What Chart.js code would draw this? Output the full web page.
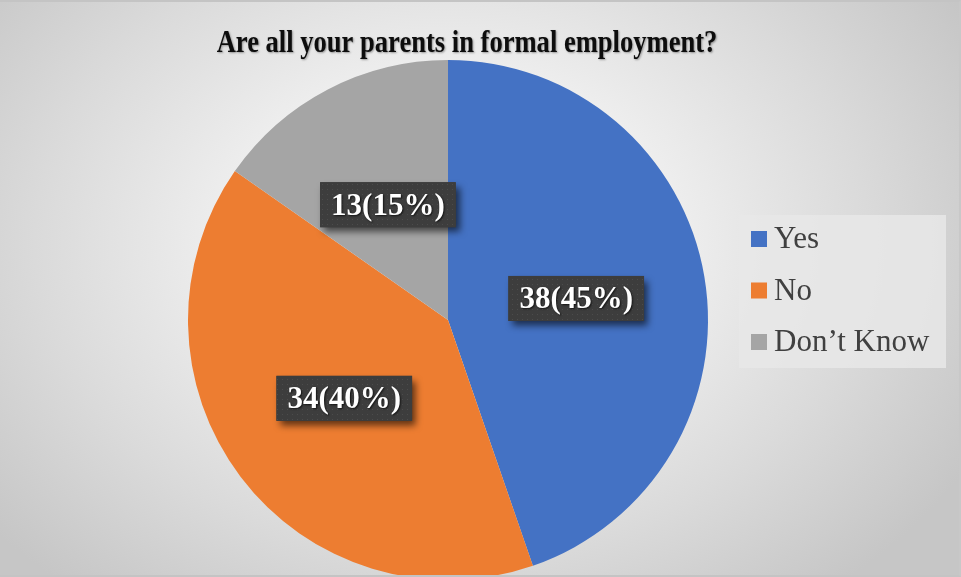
<!DOCTYPE html>
<html>
<head>
<meta charset="utf-8">
<title>Are all your parents in formal employment?</title>
<script src="https://cdn.jsdelivr.net/npm/chart.js@4/dist/chart.umd.min.js"></script>
<style>
    html, body {
        margin: 0;
        padding: 0;
        width: 961px;
        height: 577px;
        overflow: hidden;
    }
    body {
        background: radial-gradient(ellipse 62% 78% at 47% 42%, #ffffff 0%, #f3f3f3 30%, #dadada 70%, #c6c6c6 100%);
    }
    #frame {
        position: absolute;
        left: 0;
        top: 0;
        width: 961px;
        height: 577px;
        box-sizing: border-box;
        border-top: 2px solid #c4c4c4;
        border-bottom: 2px solid #c4c4c4;
        border-right: 2px solid #c8c8c8;
        overflow: hidden;
    }
    #pieChart {
        position: absolute;
        left: 0;
        top: 0;
    }
</style>
</head>
<body>
<div id="frame">
    <canvas id="pieChart" width="961" height="600"></canvas>
</div>
<script>
    const categories = ['Yes', 'No', 'Don\u2019t Know'];
    const respondents = [38, 34, 13];
    const percentages = [45, 40, 15];
    const sliceColors = ['#4472C4', '#ED7D31', '#A5A5A5'];
    const chartTitle = 'Are all your parents in formal employment?';

    const serif = '"Liberation Serif", "Times New Roman", "DejaVu Serif", serif';

    // Small dotted texture for the dark label boxes
    function makeDotPattern(ctx) {
        const tile = document.createElement('canvas');
        tile.width = 5;
        tile.height = 5;
        const t = tile.getContext('2d');
        t.fillStyle = '#3d3d3d';
        t.fillRect(0, 0, 5, 5);
        t.fillStyle = '#4c4c4c';
        t.fillRect(2, 2, 1, 1);
        return ctx.createPattern(tile, 'repeat');
    }

    // Title, condensed bold serif with a soft shadow
    const titlePlugin = {
        id: 'condensedTitle',
        afterDraw(chart) {
            const ctx = chart.ctx;
            ctx.save();
            ctx.translate(467, 50);
            ctx.scale(0.83, 1);
            ctx.font = 'bold 32px ' + serif;
            ctx.textAlign = 'center';
            ctx.textBaseline = 'alphabetic';
            ctx.shadowColor = 'rgba(0,0,0,0.35)';
            ctx.shadowBlur = 2;
            ctx.shadowOffsetX = 1;
            ctx.shadowOffsetY = 1;
            ctx.fillStyle = '#0d0d0d';
            ctx.fillText(chartTitle, 0, 0);
            ctx.restore();
        }
    };

    // "count(percent%)" labels in dark boxes at each slice's centre
    const boxLabelPlugin = {
        id: 'boxLabels',
        afterDatasetsDraw(chart) {
            const ctx = chart.ctx;
            const meta = chart.getDatasetMeta(0);
            const pattern = makeDotPattern(ctx);
            ctx.save();
            ctx.font = 'bold 31px ' + serif;
            ctx.textAlign = 'center';
            ctx.textBaseline = 'middle';
            meta.data.forEach((arc, i) => {
                const pos = arc.tooltipPosition();
                const text = respondents[i] + '(' + percentages[i] + '%)';
                const w = ctx.measureText(text).width + 22;
                const h = 45;
                const x = pos.x - w / 2;
                const y = pos.y - h / 2;

                ctx.save();
                ctx.shadowColor = 'rgba(0,0,0,0.6)';
                ctx.shadowBlur = 7;
                ctx.shadowOffsetX = 4;
                ctx.shadowOffsetY = 5;
                ctx.fillStyle = '#3d3d3d';
                ctx.fillRect(x, y, w, h);
                ctx.restore();

                ctx.fillStyle = pattern;
                ctx.fillRect(x, y, w, h);

                ctx.save();
                ctx.shadowColor = 'rgba(0,0,0,0.7)';
                ctx.shadowBlur = 2;
                ctx.shadowOffsetX = 1;
                ctx.shadowOffsetY = 1;
                ctx.fillStyle = '#ffffff';
                ctx.fillText(text, pos.x, pos.y + 2);
                ctx.restore();
            });
            ctx.restore();
        }
    };

    // Legend panel on the right
    const legendPlugin = {
        id: 'sideLegend',
        afterDraw(chart) {
            const ctx = chart.ctx;
            const labels = chart.data.labels;
            const colors = chart.data.datasets[0].backgroundColor;
            ctx.save();
            ctx.fillStyle = 'rgba(232,232,232,0.85)';
            ctx.fillRect(739, 213, 207, 153);
            ctx.font = '31px ' + serif;
            ctx.textAlign = 'left';
            ctx.textBaseline = 'middle';
            labels.forEach((label, i) => {
                const cy = 237 + i * 51.5;
                ctx.fillStyle = colors[i];
                ctx.fillRect(751, cy - 8, 16, 16);
                ctx.fillStyle = '#404040';
                ctx.fillText(label, 774, cy + 1);
            });
            ctx.restore();
        }
    };

    const ctx = document.getElementById('pieChart').getContext('2d');
    new Chart(ctx, {
        type: 'pie',
        data: {
            labels: categories,
            datasets: [{
                data: respondents,
                backgroundColor: sliceColors,
                borderWidth: 0
            }]
        },
        options: {
            responsive: false,
            animation: false,
            devicePixelRatio: 1,
            layout: {
                padding: { left: 188, right: 253, top: 58, bottom: 22 }
            },
            plugins: {
                legend: { display: false },
                title: { display: false },
                tooltip: { enabled: false }
            }
        },
        plugins: [titlePlugin, boxLabelPlugin, legendPlugin]
    });
</script>
</body>
</html>
